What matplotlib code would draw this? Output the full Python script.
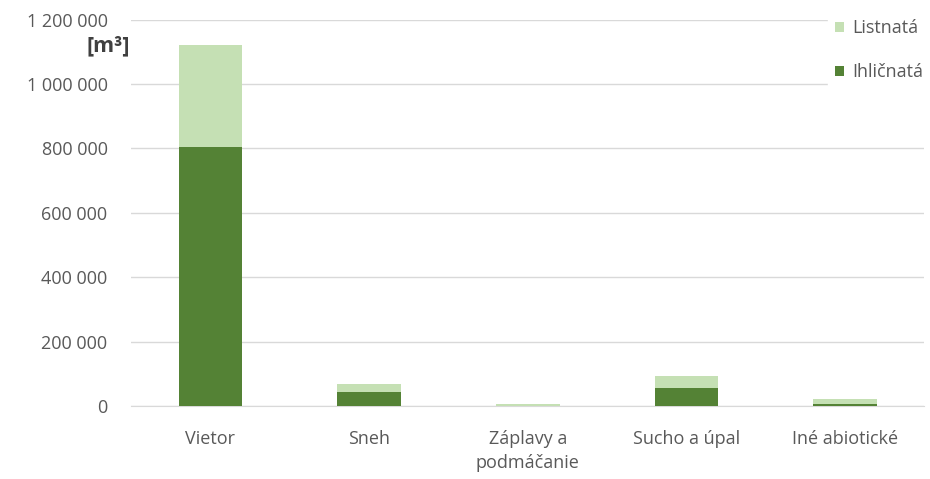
import matplotlib
matplotlib.use('Agg')
import matplotlib.pyplot as plt
from matplotlib.patches import Patch
from matplotlib.ticker import FuncFormatter
import numpy as np

# Damage volume by abiotic cause, split into conifers and broadleaves [m3]
categories  = ['Vietor', 'Sneh', 'Záplavy a\npodmáčanie', 'Sucho a úpal', 'Iné abiotické']
ihlicnata   = [805000, 44000, 1000, 55000, 7000]
listnata    = [316000, 26000, 5000, 40000, 14000]
y_ticks     = [0, 200000, 400000, 600000, 800000, 1000000, 1200000]

DARK  = '#548235'
LIGHT = '#c5e0b4'
GRID  = '#d9d9d9'
TEXT  = '#595959'

plt.rcParams['font.family'] = ['Open Sans', 'DejaVu Sans']

fig = plt.figure(figsize=(9.3, 4.79), dpi=100)
ax = fig.add_axes([0.141, 0.152, 0.853, 0.807])

x = np.arange(len(categories))
ax.bar(x, ihlicnata, width=0.4, color=DARK, zorder=3)
ax.bar(x, listnata, width=0.4, bottom=ihlicnata, color=LIGHT, zorder=3)

ax.set_xlim(-0.5, len(categories) - 0.5)
ax.set_ylim(0, 1200000)
ax.set_yticks(y_ticks)
ax.yaxis.set_major_formatter(FuncFormatter(lambda v, _: f'{int(v):,}'.replace(',', ' ')))
ax.set_xticks(x)
ax.set_xticklabels(categories, linespacing=1.45)

ax.grid(axis='y', color=GRID, linewidth=1, zorder=0)
for side in ['top', 'right', 'left']:
    ax.spines[side].set_visible(False)
ax.spines['bottom'].set_color(GRID)
ax.tick_params(axis='both', length=0, colors=TEXT, labelsize=13)
ax.tick_params(axis='y', pad=17)
ax.tick_params(axis='x', pad=17)

fig.text(0.14, 0.904, '[m³]', ha='right', va='center', fontsize=15.5,
         color='#404040', fontweight='bold')

handles = [Patch(facecolor=LIGHT, label='Listnatá'),
           Patch(facecolor=DARK, label='Ihličnatá')]
leg = ax.legend(handles=handles, loc='upper right', bbox_to_anchor=(1.008, 1.02),
                frameon=True, facecolor='white', edgecolor='white', framealpha=1,
                fontsize=13, labelcolor=TEXT, handlelength=0.5, handleheight=0.5,
                handletextpad=0.45, labelspacing=1.45, borderaxespad=0)
leg.set_zorder(5)

fig.savefig('out.png', dpi=100)
